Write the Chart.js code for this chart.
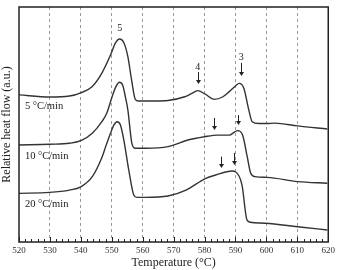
<!DOCTYPE html>
<html>
<head>
<meta charset="utf-8">
<script src="https://cdn.jsdelivr.net/npm/chart.js@4.4.0/dist/chart.umd.min.js"></script>
<style>
  html, body { margin: 0; padding: 0; background: #fff; }
  #wrap { width: 338px; height: 270px; }
</style>
</head>
<body>
<div id="wrap"><canvas id="dsc"></canvas></div>
<script>
// DSC curves, relative heat flow (a.u.) vs temperature
var temp5 = [520, 529.9, 536.3, 540.0, 543.6, 546.8, 549.6, 551.2, 552.5, 553.9, 555.2, 556.4, 557.6, 558.7, 564.0, 568.2, 573.6, 575.6, 577.8, 580.1, 583.2, 585.8, 588.0, 590.0, 591.2, 592.7, 594.3, 595.4, 597.6, 600.2, 602.7, 610.1, 619.7];
var flow5 = [62.6, 61.7, 62.1, 63.5, 66.1, 71.9, 79.6, 84.7, 86.4, 84.8, 78.9, 69.0, 60.7, 60.0, 60.0, 60.2, 61.8, 63.0, 64.4, 63.0, 60.7, 61.7, 64.0, 66.4, 67.5, 65.4, 56.2, 51.2, 50.4, 50.4, 50.6, 49.4, 48.1];

var temp10 = [520, 529.9, 536.3, 540.0, 543.7, 546.8, 548.4, 550.1, 551.3, 552.5, 553.5, 554.4, 555.2, 556.5, 557.6, 560.8, 568.2, 574.6, 580.0, 584.2, 588.0, 589.7, 590.7, 592.3, 593.8, 594.9, 596.4, 600.2, 610.1, 619.7];
var flow10 = [41.3, 41.6, 42.0, 43.1, 46.3, 51.2, 54.9, 61.8, 66.0, 68.0, 66.8, 61.8, 56.2, 42.0, 39.9, 39.9, 40.6, 43.4, 44.8, 45.5, 45.5, 46.8, 47.4, 45.5, 36.3, 29.4, 27.8, 27.5, 25.7, 25.0];

var temp20 = [520, 529.9, 536.3, 540.0, 543.7, 546.9, 548.1, 549.6, 550.7, 551.7, 552.8, 553.9, 555.5, 557.1, 558.1, 560.8, 568.2, 574.0, 580.4, 583.6, 588.9, 590.0, 592.1, 593.7, 594.8, 599.6, 610.1, 619.7];
var flow20 = [20.7, 21.1, 22.1, 23.5, 27.8, 36.3, 40.9, 46.3, 49.8, 51.2, 49.8, 43.4, 30.6, 20.0, 19.0, 19.0, 19.6, 22.1, 27.1, 28.5, 30.2, 29.9, 24.3, 9.4, 8.4, 8.0, 6.5, 5.1];

var xTicks = [520, 530, 540, 550, 560, 570, 580, 590, 600, 610, 620];

// peak markers: temperature, arrow tip, arrow tail
var arrowT = [577.8, 591.9, 582.9, 590.8, 585.2, 589.6];
var arrowTip = [67.2, 70.6, 47.7, 49.8, 31.5, 32.8];
var arrowTail = [72.3, 76.2, 52.8, 54.0, 36.3, 37.9];

// peak numbers
var peakText = ['5', '4', '3'];
var peakT = [552.6, 577.8, 591.9];
var peakY = [91.1, 74.5, 78.7];

// curve names
var rateText = ['5 \u00B0C/min', '10 \u00B0C/min', '20 \u00B0C/min'];
var rateT = [521.9, 521.9, 521.9];
var rateY = [57.6, 36.3, 16.0];

function pts(xs, ys) {
  var out = [];
  for (var i = 0; i < xs.length; i++) out.push({x: xs[i], y: ys[i]});
  return out;
}

var serif = '"Liberation Serif", "DejaVu Serif", serif';

var marks = {
  id: 'marks',
  afterDatasetsDraw: function(chart) {
    var ctx = chart.ctx, xs = chart.scales.x, ys = chart.scales.y, a = chart.chartArea;
    ctx.save();
    // minor ticks on bottom axis
    ctx.strokeStyle = '#222';
    ctx.lineWidth = 1;
    for (var t = 520; t <= 620; t += 2) {
      var px = Math.round(xs.getPixelForValue(t)) + 0.5;
      var len = (t % 10 === 0) ? 5 : 3;
      ctx.beginPath();
      ctx.moveTo(px, a.bottom);
      ctx.lineTo(px, a.bottom - len);
      ctx.stroke();
    }
    // frame
    ctx.lineWidth = 1.5;
    ctx.strokeStyle = '#222';
    ctx.strokeRect(a.left, a.top, a.right - a.left, a.bottom - a.top);

    // arrows
    ctx.strokeStyle = '#222';
    ctx.fillStyle = '#222';
    ctx.lineWidth = 1;
    for (var i = 0; i < arrowT.length; i++) {
      var x = Math.round(xs.getPixelForValue(arrowT[i])) + 0.5;
      var y1 = ys.getPixelForValue(arrowTail[i]);
      var y2 = ys.getPixelForValue(arrowTip[i]);
      ctx.beginPath();
      ctx.moveTo(x, y1);
      ctx.lineTo(x, y2 - 3);
      ctx.stroke();
      ctx.beginPath();
      ctx.moveTo(x - 2.5, y2 - 4);
      ctx.lineTo(x + 2.5, y2 - 4);
      ctx.lineTo(x, y2);
      ctx.closePath();
      ctx.fill();
    }

    // peak numbers
    ctx.font = '10px ' + serif;
    ctx.textAlign = 'center';
    ctx.textBaseline = 'middle';
    for (var j = 0; j < peakText.length; j++) {
      ctx.fillText(peakText[j], xs.getPixelForValue(peakT[j]), ys.getPixelForValue(peakY[j]));
    }
    // curve names
    ctx.font = '10.5px ' + serif;
    ctx.textAlign = 'left';
    for (var k = 0; k < rateText.length; k++) {
      ctx.fillText(rateText[k], xs.getPixelForValue(rateT[k]), ys.getPixelForValue(rateY[k]));
    }
    ctx.restore();
  }
};

var lineStyle = {
  borderColor: '#333',
  borderWidth: 1.4,
  pointRadius: 0,
  fill: false,
  tension: 0.4,
  cubicInterpolationMode: 'monotone'
};

var ctx = document.getElementById('dsc');
var chart = new Chart(ctx, {
  type: 'line',
  data: {
    datasets: [
      Object.assign({label: '5 \u00B0C/min', data: pts(temp5, flow5)}, lineStyle),
      Object.assign({label: '10 \u00B0C/min', data: pts(temp10, flow10)}, lineStyle),
      Object.assign({label: '20 \u00B0C/min', data: pts(temp20, flow20)}, lineStyle)
    ]
  },
  options: {
    responsive: true,
    maintainAspectRatio: false,
    animation: false,
    layout: { padding: { top: 7, right: 6, left: 0, bottom: 0 } },
    plugins: { legend: { display: false }, tooltip: { enabled: false } },
    scales: {
      x: {
        type: 'linear',
        min: 520,
        max: 620,
        afterBuildTicks: function(scale) {
          scale.ticks = xTicks.map(function(v) { return {value: v}; });
        },
        afterFit: function(scale) { scale.height = 28; },
        border: { display: false, dash: [3, 3] },
        grid: {
          drawTicks: false,
          color: function(c) {
            var v = c.tick ? c.tick.value : 0;
            return (v === 520 || v === 620) ? 'rgba(0,0,0,0)' : '#9a9a9a';
          },
          lineWidth: 1
        },
        ticks: {
          padding: 3,
          color: '#333',
          font: { family: serif, size: 9 },
          maxRotation: 0
        },
        title: {
          display: true,
          text: 'Temperature (\u00B0C)',
          color: '#222',
          font: { family: serif, size: 12 },
          padding: { top: 0, bottom: 0 }
        }
      },
      y: {
        min: 0,
        max: 100,
        afterFit: function(scale) { scale.width = 19; },
        border: { display: false },
        grid: { display: false, drawTicks: false },
        ticks: { display: false },
        title: {
          display: true,
          text: 'Relative heat flow (a.u.)',
          color: '#222',
          font: { family: serif, size: 12 },
          padding: { top: 0, bottom: 0 }
        }
      }
    }
  },
  plugins: [marks]
});
</script>
</body>
</html>
